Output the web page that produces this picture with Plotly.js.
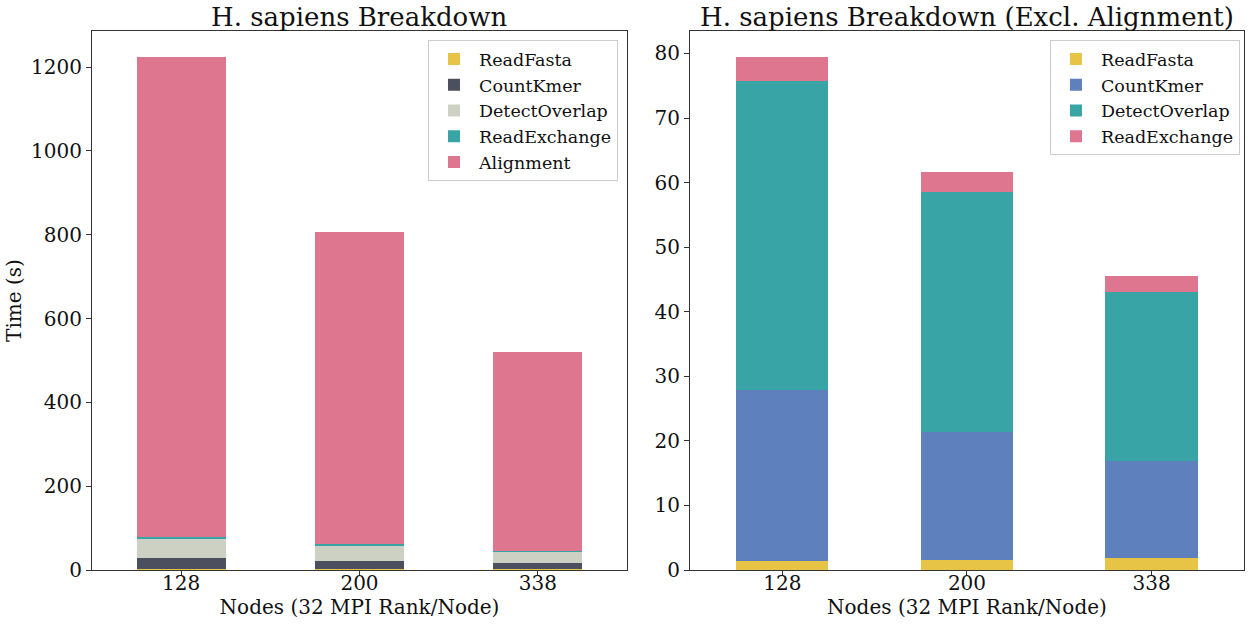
<!DOCTYPE html>
<html>
<head>
<meta charset="utf-8">
<script src="https://cdn.plot.ly/plotly-3.0.1.min.js"></script>
<style>html,body{margin:0;padding:0;background:#fff;}#chart{width:1250px;height:624px;}</style>
</head>
<body>
<div id="chart"></div>
<script>
const nodes = ['128', '200', '338'];
const readFasta = [1.4, 1.5, 1.8];
const countKmer = [26.4, 19.8, 15.1];
const detectOverlap = [47.9, 37.3, 26.2];
const readExchange = [3.8, 3.1, 2.5];
const alignment = [1145.5, 744.4, 474.4];

const FONT = 'DejaVu Serif, serif';
const C = {
  yellow: '#E8C446', dark: '#4B4F5E', light: '#CDD1C4',
  teal: '#38A4A5', pink: '#DE7690', blue: '#5E80BD'
};

function bar(name, y, color, xa, ya, legend) {
  return {type: 'bar', name: name, x: nodes, y: y, xaxis: xa, yaxis: ya,
    marker: {color: color, line: {width: 0}}, width: 0.5, legend: legend,
    hoverinfo: 'y+name'};
}

const traces = [
  bar('ReadFasta', readFasta, C.yellow, 'x', 'y', 'legend'),
  bar('CountKmer', countKmer, C.dark, 'x', 'y', 'legend'),
  bar('DetectOverlap', detectOverlap, C.light, 'x', 'y', 'legend'),
  bar('ReadExchange', readExchange, C.teal, 'x', 'y', 'legend'),
  bar('Alignment', alignment, C.pink, 'x', 'y', 'legend'),
  bar('ReadFasta', readFasta, C.yellow, 'x2', 'y2', 'legend2'),
  bar('CountKmer', countKmer, C.blue, 'x2', 'y2', 'legend2'),
  bar('DetectOverlap', detectOverlap, C.teal, 'x2', 'y2', 'legend2'),
  bar('ReadExchange', readExchange, C.pink, 'x2', 'y2', 'legend2')
];

const leftTotal = Math.max(...nodes.map((_, i) => readFasta[i] + countKmer[i] + detectOverlap[i] + readExchange[i] + alignment[i]));
const rightTotal = Math.max(...nodes.map((_, i) => readFasta[i] + countKmer[i] + detectOverlap[i] + readExchange[i]));

const axisCommon = {
  showline: true, linecolor: '#333', linewidth: 1, mirror: true,
  ticks: 'outside', ticklen: 5, tickcolor: '#333', showgrid: false, zeroline: false,
  tickfont: {family: FONT, size: 20, color: '#111'}, automargin: false
};
const xTitle = {text: 'Nodes (32 MPI Rank/Node)', font: {family: FONT, size: 20, color: '#111'}, standoff: 3};
const legendCommon = {
  bgcolor: 'rgba(255,255,255,0.9)', bordercolor: '#cccccc', borderwidth: 1,
  font: {family: FONT, size: 17.5, color: '#111'}, traceorder: 'normal',
  xanchor: 'right', yanchor: 'top', itemwidth: 40
};

const layout = {
  width: 1250, height: 624,
  margin: {l: 92, r: 3, t: 31, b: 54},
  paper_bgcolor: '#fff', plot_bgcolor: '#fff',
  barmode: 'stack', bargap: 0.5,
  font: {family: FONT, color: '#111'},
  xaxis: Object.assign({}, axisCommon, {domain: [0, 0.4632], type: 'category', range: [-0.5, 2.5], anchor: 'y',
    ticklabelstandoff: -10, title: xTitle}),
  yaxis: Object.assign({}, axisCommon, {range: [0, leftTotal * 1.05], dtick: 200, anchor: 'x',
    title: {text: 'Time (s)', font: {family: FONT, size: 20, color: '#111'}, standoff: 4}}),
  xaxis2: Object.assign({}, axisCommon, {domain: [0.5177, 0.9974], type: 'category', range: [-0.5, 2.5], anchor: 'y2',
    ticklabelstandoff: -10, title: xTitle}),
  yaxis2: Object.assign({}, axisCommon, {range: [0, rightTotal * 1.05], dtick: 10, anchor: 'x2'}),
  legend: Object.assign({}, legendCommon, {x: 0.4554, y: 0.983}),
  legend2: Object.assign({}, legendCommon, {x: 0.9939, y: 0.983}),
  annotations: [
    {text: 'H. sapiens Breakdown', xref: 'paper', yref: 'paper', x: 0.2316, y: 1, xanchor: 'center', yanchor: 'middle',
      yshift: 14, showarrow: false, font: {family: FONT, size: 26, color: '#111'}},
    {text: 'H. sapiens Breakdown (Excl. Alignment)', xref: 'paper', yref: 'paper', x: 0.7576, y: 1, xanchor: 'center', yanchor: 'middle',
      yshift: 14, showarrow: false, font: {family: FONT, size: 26, color: '#111'}}
  ]
};

Plotly.newPlot('chart', traces, layout, {displayModeBar: false, responsive: false});
</script>
</body>
</html>
